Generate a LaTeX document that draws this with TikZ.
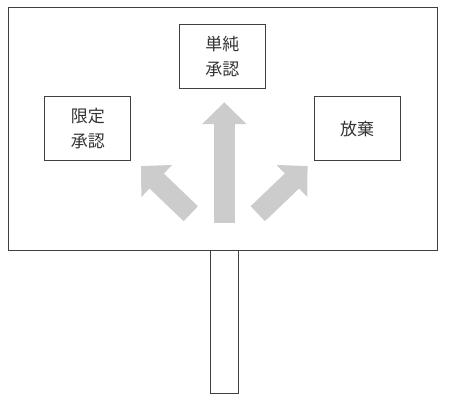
\documentclass[tikz,border=0pt]{standalone}
\usepackage{fontspec}
\newfontfamily\jp{Noto Sans CJK JP}
\usetikzlibrary{positioning}
\usetikzlibrary{arrows.meta}

\begin{document}
\begin{tikzpicture}[x=1pt, y=-1pt,
    box/.style={draw=black!75, line width=1pt, minimum width=86pt, minimum height=64pt, inner sep=0pt, align=center, text=black!80, font={\jp\fontsize{17}{25}\selectfont}},
    way/.style={draw=black!20, line width=20.7pt, -{Triangle[length=21.7pt, width=43pt]}}]
            \useasboundingbox (0,0) rectangle (450,407);

            % sign and post
            \draw[black!75, line width=1pt] (8.3,7.3) rectangle (437.3,250);
            \draw[black!75, line width=1pt] (210.3,250) rectangle (238.3,393.3);

            \node[box] (simple) at (222.3,56.8) {単純\\承認};
            \node[box] (limited) at (87.8,128.8) {限定\\承認};
            \node[box] (renounce) at (357.2,128.8) {放棄};

            \coordinate (up0) at (224.3,222.7);
            \coordinate (up1) at (224.3,102.3);
            \coordinate (left0) at (190.8,213.7);
            \coordinate (left1) at (141,166);
            \coordinate (right0) at (257.8,213.7);
            \coordinate (right1) at (307.6,166);

            \draw[way] (up0) -- (up1);
            \draw[way] (left0) -- (left1);
            \draw[way] (right0) -- (right1);
        \end{tikzpicture}
\end{document}
